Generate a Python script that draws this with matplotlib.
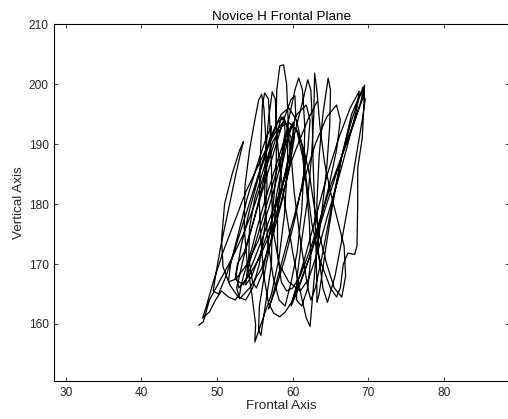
import matplotlib
matplotlib.use("Agg")
import matplotlib.pyplot as plt

# hand-traced trajectory vertices (frontal axis, vertical axis)
frontal = [
    47.6, 48.2, 49.0, 50.5, 52.0, 53.5, 55.0, 56.5, 57.8, 58.5, 59.3, 59.8, 60.2, 60.8, 61.5, 62.0, 62.4,
    63.0, 64.0, 65.2, 66.5, 67.8, 69.3, 69.4, 68.5, 67.0, 65.5, 64.0, 62.5, 61.0, 59.8, 59.0, 58.3,
    57.5, 56.8, 56.2, 55.8, 55.6, 55.7, 55.9, 56.0, 56.3, 56.8, 57.0, 57.2, 57.3, 57.2, 56.5, 55.8,
    55.5, 55.6, 56.5, 57.8, 59.2, 60.5, 61.5, 62.0, 62.4, 62.6, 62.7, 62.9, 63.1, 63.2, 63.2,
    63.5, 64.3, 65.3, 66.5, 67.8, 69.0, 69.6, 69.2, 68.4, 67.5, 66.5, 65.6, 64.6,
    64.0, 63.4, 63.2, 63.5, 64.0, 64.7, 65.0, 64.9, 64.5, 63.8, 63.0, 62.3,
    61.8, 60.9, 60.0, 59.1, 58.3, 57.8, 57.9, 58.3, 58.8, 59.2, 59.4, 59.3, 58.9, 58.2, 57.2, 55.0,
    55.1, 54.6, 54.0, 53.6, 53.7, 54.3, 55.0, 55.5, 55.9, 56.2, 56.5, 56.6, 56.3, 55.6, 54.7, 53.8,
    52.8, 51.7, 50.8, 50.6, 51.0, 52.0, 53.0, 53.5, 53.3, 52.5, 51.5, 50.5, 49.8, 49.5,
    50.2, 51.2, 52.5, 54.0, 55.5, 57.0, 58.5, 59.5, 60.5, 61.2, 61.8, 62.5, 63.5, 65.0, 65.8,
    66.3, 66.7, 67.3, 68.2, 68.5, 68.6, 68.6, 69.2, 69.4, 69.5,
    69.0, 68.0, 66.5, 65.0, 63.5, 62.2, 61.0, 60.0, 59.2,
    58.5, 58.0, 58.0, 58.5, 59.3, 60.3, 60.8, 61.3, 61.6, 61.5, 61.2, 60.6, 59.8, 59.0,
    58.2, 57.4, 56.7, 56.3, 56.4, 56.8, 57.3, 57.7, 57.9, 57.8, 57.3, 56.6, 56.0, 55.2,
    54.7, 54.2, 54.3, 55.0, 56.2, 57.4, 58.6, 59.6, 60.6, 61.3, 61.8, 62.2, 62.4, 62.0, 61.2,
    60.5, 60.6, 61.2, 62.0, 62.5, 62.8, 62.9, 63.2, 63.6, 64.2, 65.0, 66.0, 66.8, 67.0, 66.5,
    65.5, 64.5, 63.5, 62.8, 62.2, 61.5, 60.5, 59.8,
    59.0, 58.2, 57.2, 56.2, 55.3, 54.6, 54.0, 53.5, 53.2, 53.0, 52.4, 51.5, 50.6, 49.8, 49.0,
    48.1, 48.6, 49.5, 50.8, 52.3, 53.8, 55.3, 56.8, 58.0, 59.0, 59.1,
    59.8, 59.5, 58.5, 57.2, 55.8, 54.3, 53.0,
    52.6, 53.5, 54.8, 56.2, 57.6, 58.8, 59.8, 60.3, 60.4, 59.7, 58.6, 57.2, 55.8, 54.6, 53.8,
    54.0, 55.2, 56.6, 58.0, 59.3, 60.6, 61.8, 62.3, 62.0, 61.2, 60.2, 59.0, 57.8, 56.8,
    57.2, 58.5, 60.0, 61.5, 63.0, 64.5, 65.8, 66.3, 65.8, 64.8, 63.6, 62.2, 60.8, 59.8,
    60.2, 61.6, 63.1, 64.6, 66.1, 67.6, 68.8, 68.5, 67.3, 66.0, 64.6, 63.3, 62.1, 61.0,
    59.5, 58.2, 57.5, 57.8, 58.7, 59.6, 60.0,
    60.2, 59.6, 58.4, 57.0, 55.6, 54.2, 52.9,
    52.5, 53.2, 54.3, 55.6, 56.9, 58.0, 58.8, 59.0, 58.3, 57.0, 55.5, 54.0, 52.5, 51.5,
    51.8, 52.8, 54.0, 55.3, 56.5, 57.2, 57.0, 56.0, 54.8, 53.6, 52.7,
    52.4, 53.5, 55.0, 56.8, 58.6, 60.4, 62.0, 63.2,
]
vertical = [
    159.8, 160.4, 164.0, 167.5, 171.0, 175.0, 180.0, 186.0, 191.0, 194.5, 193.0, 188.0, 182.0, 176.0, 170.0, 166.0, 164.0,
    166.0, 172.0, 180.0, 188.0, 194.0, 199.5, 198.0, 195.0, 190.0, 184.0, 178.0, 172.0, 167.0, 163.5, 162.0, 161.2,
    161.8, 163.5, 168.0, 174.0, 180.0, 187.0, 193.0, 196.5, 198.5, 197.5, 193.0, 186.0, 178.0, 170.0, 164.0, 158.1,
    159.0, 163.0, 170.0, 178.0, 186.0, 193.0, 198.0, 200.7, 199.0, 194.0, 187.0, 180.0, 172.0, 166.0, 163.6,
    165.0, 172.0, 180.0, 188.0, 195.0, 198.5, 197.5, 194.0, 188.0, 181.0, 174.0, 168.0, 163.6,
    166.0, 172.0, 180.0, 188.0, 195.0, 201.0, 199.0, 193.0, 186.0, 178.0, 170.0, 159.6,
    161.0, 166.0, 172.0, 179.0, 186.0, 193.0, 199.0, 203.0, 203.2, 200.0, 194.0, 186.0, 178.0, 171.0, 165.0, 157.0,
    160.0, 165.0, 170.0, 176.0, 183.0, 189.0, 194.0, 197.3, 198.3, 196.0, 190.0, 183.0, 176.0, 170.0, 166.0, 164.0,
    164.5, 166.5, 169.5, 174.0, 180.0, 185.0, 189.0, 190.4, 189.5, 185.0, 179.0, 173.0, 168.0, 165.5,
    165.0, 168.0, 173.0, 179.0, 185.0, 191.0, 195.0, 196.0, 194.0, 190.0, 184.0, 177.0, 171.0, 166.0, 164.5,
    166.0, 170.0, 171.8, 171.6, 173.0, 180.0, 186.0, 191.0, 196.0, 199.8,
    197.0, 193.0, 188.0, 183.0, 177.0, 172.0, 168.0, 166.0, 165.5,
    167.0, 172.0, 179.0, 186.0, 193.0, 199.0, 201.0, 199.0, 193.0, 186.0, 179.0, 172.0, 167.0, 163.0,
    164.0, 168.0, 174.0, 181.0, 188.0, 194.0, 198.7, 197.5, 192.0, 185.0, 178.0, 172.0, 168.5, 166.0,
    167.0, 171.0, 176.0, 181.0, 186.0, 190.5, 193.0, 193.5, 192.0, 188.0, 183.0, 177.0, 171.0, 166.0, 163.0,
    164.0, 168.0, 174.0, 181.0, 188.0, 195.0, 201.8, 199.0, 193.0, 187.0, 182.0, 177.0, 173.0, 168.0, 164.5,
    166.0, 170.0, 175.0, 180.0, 185.0, 189.0, 192.5, 193.0,
    191.0, 188.0, 184.0, 180.0, 176.0, 172.5, 170.0, 168.0, 166.5, 165.0, 164.0, 164.5, 165.5, 164.0, 162.0,
    161.0, 163.0, 167.0, 172.0, 177.0, 182.0, 186.0, 190.0, 192.5, 194.0, 193.5,
    191.0, 186.0, 180.0, 174.0, 169.0, 166.0, 164.2,
    166.0, 171.0, 177.0, 183.0, 189.0, 194.0, 197.5, 198.0, 195.0, 189.0, 183.0, 177.0, 172.0, 168.0, 166.5,
    169.0, 174.0, 180.0, 186.0, 191.0, 195.0, 196.5, 194.0, 189.0, 183.0, 177.0, 171.0, 166.0, 162.5,
    164.0, 170.0, 177.0, 184.0, 190.0, 194.5, 196.5, 194.0, 189.0, 183.0, 177.0, 171.0, 166.0, 163.0,
    165.0, 171.0, 178.0, 185.0, 191.0, 196.0, 198.8, 196.0, 190.0, 184.0, 178.0, 172.0, 167.5, 165.5,
    167.0, 170.0, 175.0, 181.0, 187.0, 192.0, 193.5,
    191.0, 186.0, 180.0, 175.0, 171.0, 168.0, 166.0,
    168.0, 173.0, 179.0, 185.0, 190.0, 193.5, 194.5, 192.0, 186.0, 180.0, 174.0, 170.0, 167.5, 167.0,
    170.0, 175.0, 181.0, 186.5, 191.0, 193.0, 189.0, 183.0, 177.0, 172.0, 170.0,
    167.5, 166.5, 171.0, 177.0, 183.0, 189.0, 194.0, 197.0,
]

fig = plt.figure(figsize=(5.08, 4.19), dpi=100)
plt.rcParams["font.family"] = ["Liberation Sans", "DejaVu Sans"]
ax = fig.add_axes([0.107, 0.0907, 0.895, 0.852])

ax.plot(frontal, vertical, color="black", linewidth=0.9)

ax.set_xlim(28.5, 88.6)
ax.set_ylim(150.5, 210)
ax.set_xticks([30, 40, 50, 60, 70, 80])
ax.set_yticks([160, 170, 180, 190, 200, 210])
ax.tick_params(direction="in", top=True, right=True, length=3, width=0.6,
               labelsize=8.6, pad=4, colors="#262626")
for s in ax.spines.values():
    s.set_linewidth(0.8)

ax.set_title("Novice H Frontal Plane", fontsize=9.7, pad=3)
ax.set_xlabel("Frontal Axis", fontsize=9.7, labelpad=1, color="#262626")
ax.set_ylabel("Vertical Axis", fontsize=9.7, labelpad=3, color="#262626")

fig.savefig("out.png", dpi=100)
